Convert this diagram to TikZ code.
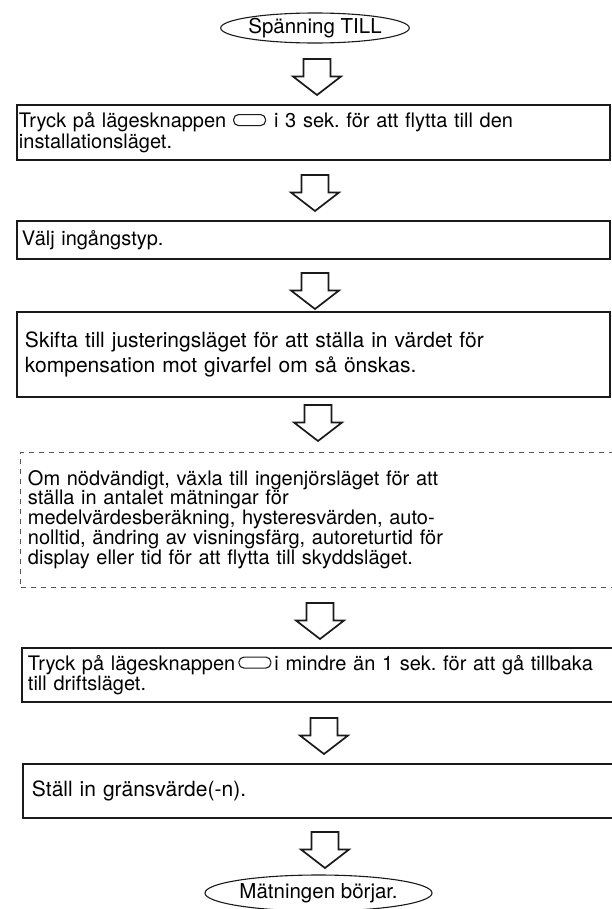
\documentclass[tikz,border=0pt]{standalone}
\usepackage{fontspec}
\setmainfont{TeX Gyre Heros}
\usetikzlibrary{shapes.geometric}
\definecolor{inkc}{HTML}{1A1A1A}
\definecolor{dashc}{HTML}{555555}
\newcommand{\btnshape}{\tikz[baseline=-2bp]\draw[line width=1.1bp, inkc, rounded corners=5bp] (0bp,0bp) rectangle (32bp,11bp);}
\frenchspacing
\begin{document}
\begin{tikzpicture}[x=1bp,y=-1bp,
  stepbox/.style={draw=inkc, line width=1.8bp, rectangle, inner ysep=0bp, align=left, anchor=center},
  dashbox/.style={draw=dashc, line width=1bp, dash pattern=on 5bp off 5bp, rectangle, inner ysep=0bp, align=left, anchor=center},
  ovalbox/.style={draw=inkc, line width=1.1bp, ellipse, inner sep=0bp},
  arrowline/.style={draw=inkc, line width=1.7bp, line join=miter, fill=white},
  downarrow/.pic={\draw[arrowline] (-13.5,0) -- (13.5,0) -- (13.5,17.5) -- (24,17.5) -- (0,36) -- (-24,17.5) -- (-13.5,17.5) -- cycle;},
  smalltxt/.style={font=\fontsize{20bp}{20.5bp}\selectfont},
  bigtxt/.style={font=\fontsize{21bp}{25bp}\selectfont}
]
\useasboundingbox (0,0) rectangle (612,909);

\node[ovalbox, font=\fontsize{20.5bp}{21bp}\selectfont, minimum width=172bp, minimum height=30bp] (start) at (315,28) {Spänning TILL};

\node[stepbox, smalltxt, inner xsep=2bp, text width=589bp, minimum height=55bp] (b1) at (313.5,132.5)
 {Tryck på lägesknappen \btnshape\hspace{0.4em}i 3 sek. för att flytta till den\\installationsläget.};

\node[stepbox, smalltxt, inner xsep=5bp, text width=583bp, minimum height=38bp] (b2) at (313.5,240)
 {Välj ingångstyp.};

\node[stepbox, bigtxt, inner xsep=8bp, text width=577bp, minimum height=85bp] (b3) at (313.5,354.5)
 {Skifta till justeringsläget för att ställa in värdet för\\kompensation mot givarfel om så önskas.};

\node[dashbox, font=\fontsize{20bp}{19.8bp}\selectfont, inner xsep=7bp, text width=585bp, minimum height=135bp] (b4) at (320.5,519.5)
 {Om nödvändigt, växla till ingenjörsläget för att\\ställa in antalet mätningar för\\medelvärdesberäkning, hysteresvärden, auto-\\nolltid, ändring av visningsfärg, autoreturtid för\\display eller tid för att flytta till skyddsläget.};

\node[stepbox, smalltxt, inner xsep=6bp, text width=586bp, minimum height=54bp] (b5) at (321,675)
 {Tryck på lägesknappen\hspace{0.15em}\btnshape\hspace{0.15em}i mindre än 1 sek. för att gå tillbaka\\till driftsläget.};

\node[stepbox, bigtxt, inner xsep=9bp, text width=579bp, minimum height=54bp] (b6) at (321.5,791)
 {Ställ in gränsvärde(-n).};

\node[ovalbox, font=\fontsize{20.5bp}{21bp}\selectfont, minimum width=227bp, minimum height=36bp] (stop) at (318.5,893) {Mätningen börjar.};

\coordinate (a1) at (317,59);
\coordinate (a2) at (315,175);
\coordinate (a3) at (315,273);
\coordinate (a4) at (318,405);
\coordinate (a5) at (320,603);
\coordinate (a6) at (324,718);
\coordinate (a7) at (325,832);
\foreach \c in {a1,a2,a3,a4,a5,a6,a7} { \pic at (\c) {downarrow}; }
\end{tikzpicture}
\end{document}
